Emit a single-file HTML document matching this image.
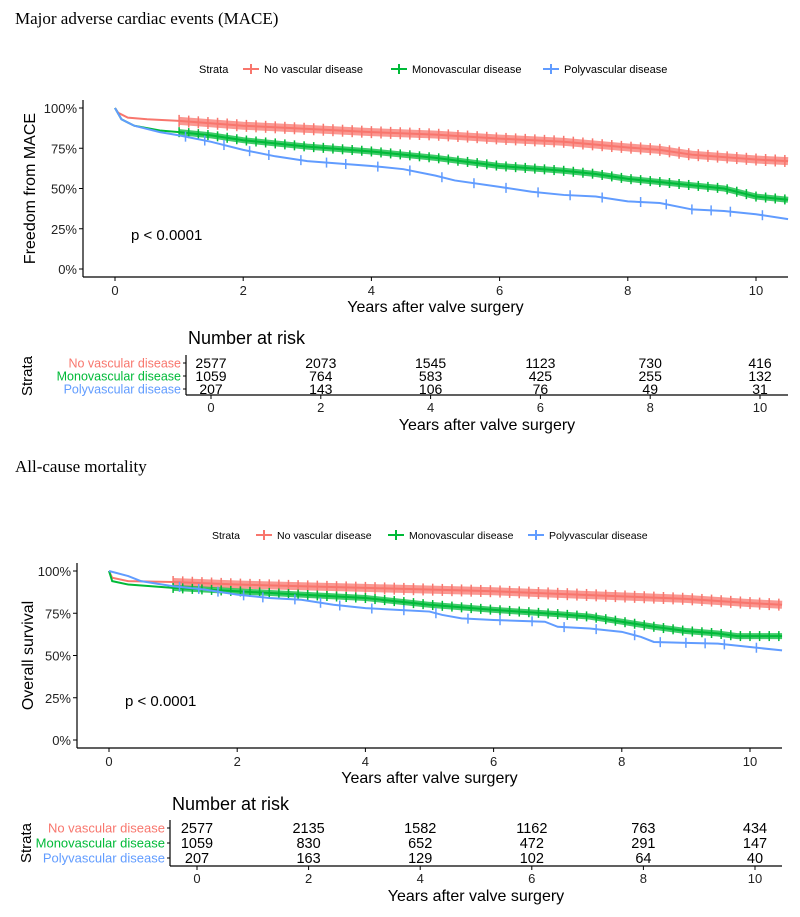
<!DOCTYPE html>
<html><head><meta charset="utf-8">
<style>
body{margin:0;background:#fff;}
svg{display:block;font-family:"Liberation Sans",sans-serif;}
.serif{font-family:"Liberation Serif",serif;}
</style></head>
<body>
<svg id="s" width="800" height="917" viewBox="0 0 800 917" xmlns="http://www.w3.org/2000/svg">
<text class="serif" x="15" y="24" font-size="17" fill="#000">Major adverse cardiac events (MACE)</text>
<text class="serif" x="15" y="472" font-size="17" fill="#000">All-cause mortality</text>
</svg>
<script>
const COLORS=["#F8766D","#00BA38","#619CFF"];
const strataNames=["No vascular disease","Monovascular disease","Polyvascular disease"];
const xTicks=[0,2,4,6,8,10];
const yTicks=[0,25,50,75,100];
// MACE curves [time, survival%]
const maceRed=[[0,100],[0.05,97],[0.2,94],[0.5,93],[1,92],[2,89],[3,87],[4,85],[5,83.5],[6,81],[7,79],[8,75.5],[8.5,74],[9,71],[10,68],[10.5,67]];
const maceGreen=[[0,100],[0.1,93],[0.3,89],[0.7,86],[1,85],[1.5,83],[2,80],[3,76],[4,73],[5,69],[6,64],[7,61],[7.5,59],[8,56],[9,52],[9.5,50],[10,45],[10.5,43]];
const maceBlue=[[0,100],[0.1,93],[0.3,89],[0.7,85],[1,83],[1.5,79],[2,74],[2.5,70],[3,67],[4,64],[4.5,62],[5,58],[5.3,55],[6,51],[6.5,48],[7,46],[7.5,45],[8,42],[8.5,41],[9,37],[9.5,36],[10,34],[10.5,31]];
// OS curves
const osRed=[[0,100],[0.05,96],[0.3,94],[1,93.5],[2,92],[4,90],[6,88],[8,85],[9,83.5],[10,81],[10.5,80]];
const osGreen=[[0,100],[0.05,94],[0.3,92],[1,90],[2,88],[3,86],[4,84],[5,80],[6,77],[7,74.5],[7.5,73],[8,70],[8.5,67],[9,64.5],[9.5,63],[9.8,61.5],[10.5,61.5]];
const osBlue=[[0,100],[0.3,97],[0.5,94],[1,91],[1.5,89],[2,86],[2.5,84],[3,83],[3.5,80],[4,78],[4.5,77],[5,76],[5.2,74],[5.5,72],[6,71],[6.8,70],[7,67],[7.5,66],[8,64],[8.3,61],[8.5,58],[9,57.5],[9.5,57],[10,55],[10.5,53]];
// censor times
const censDense=[1,1.15,1.3,1.45,1.6,1.75,1.9,2.05,2.2,2.35,2.5,2.65,2.8,2.95,3.1,3.25,3.4,3.55,3.7,3.85,4,4.15,4.3,4.45,4.6,4.75,4.9,5.05,5.2,5.35,5.5,5.65,5.8,5.95,6.1,6.25,6.4,6.55,6.7,6.85,7,7.15,7.3,7.45,7.6,7.75,7.9,8.05,8.2,8.35,8.5,8.65,8.8,8.95,9.1,9.25,9.4,9.55,9.7,9.85,10,10.15,10.3,10.45];
const censSparse=[1.1,1.4,1.7,2.1,2.4,2.9,3.3,3.6,4.1,4.6,5.1,5.6,6.1,6.6,7.1,7.6,8.2,8.6,9.0,9.3,9.6,10.1];
// risk tables
const maceRisk=[[2577,2073,1545,1123,730,416],[1059,764,583,425,255,132],[207,143,106,76,49,31]];
const osRisk=[[2577,2135,1582,1162,763,434],[1059,830,652,472,291,147],[207,163,129,102,64,40]];

const S=document.getElementById('s');
const NS="http://www.w3.org/2000/svg";
function mk(tag,attrs,parent){const e=document.createElementNS(NS,tag);for(const k in attrs)e.setAttribute(k,attrs[k]);(parent||S).appendChild(e);return e;}
function txt(x,y,t,size,fill,anchor,parent){const e=mk('text',{x:x,y:y,'font-size':size,fill:fill||'#000','text-anchor':anchor||'start'},parent);e.textContent=t;return e;}
function survAt(curve,t){for(let k=1;k<curve.length;k++){if(curve[k][0]>=t){const a=curve[k-1],b=curve[k];return a[1]+(b[1]-a[1])*(t-a[0])/(b[0]-a[0]);}}return curve[curve.length-1][1];}

function panel(P){
  const g=mk('g',{});
  
  
  const sx=t=>P.x0+(P.x10-P.x0)*t/10;
  const sy=v=>P.y0+(P.y100-P.y0)*v/100;
  const lg=mk('g',{},g);
  
  
  txt(P.legX,P.legY+4,'Strata',P.legF,'#000','start',lg);
  let lx=P.legX+P.legS;
  for(let i=0;i<3;i++){
    const it=mk('g',{},lg);
    
    
    mk('line',{x1:lx,x2:lx+16,y1:P.legY,y2:P.legY,stroke:COLORS[i],'stroke-width':2},it);
    mk('line',{x1:lx+8,x2:lx+8,y1:P.legY-5,y2:P.legY+5,stroke:COLORS[i],'stroke-width':2},it);
    txt(lx+21,P.legY+4,strataNames[i],P.legF,'#000','start',it);
    lx+=P.legW[i];
  }
  mk('line',{x1:P.ax,x2:P.ax,y1:P.y100-8,y2:P.axY,stroke:'#000','stroke-width':1.2},g);
  mk('line',{x1:P.ax,x2:P.axR,y1:P.axY,y2:P.axY,stroke:'#000','stroke-width':1.2},g);
  for(const v of yTicks){mk('line',{x1:P.ax-4,x2:P.ax,y1:sy(v),y2:sy(v),stroke:'#000'},g);txt(P.ax-6,sy(v)+5,v+'%',13,'#222','end',g);}
  for(const t of xTicks){mk('line',{x1:sx(t),x2:sx(t),y1:P.axY,y2:P.axY+4,stroke:'#000'},g);txt(sx(t),P.axY+18,String(t),13,'#222','middle',g);}
  const xl=txt((P.ax+P.axR)/2,P.axY+35,'Years after valve surgery',16,'#000','middle',g);
  
  const yl=txt(0,0,P.ylab,16,'#000','middle',g);
  yl.setAttribute('transform','translate('+P.ylx+','+sy(50)+') rotate(-90)');
  
  const pv=txt(P.pX,sy(P.pV),'p < 0.0001',15,'#000','start',g);
  
  P.curves.forEach((c,i)=>{
    let d='M'+sx(c[0][0])+','+sy(c[0][1]);
    for(let k=1;k<c.length;k++){d+=' L'+sx(c[k][0])+','+sy(c[k][1]);}
    const pth=mk('path',{d:d,fill:'none',stroke:COLORS[i],'stroke-width':2},g);
    
    if(P.band[i]>0){
      let bd='M'+sx(1)+','+sy(survAt(c,1));
      for(let k=1;k<c.length;k++){if(c[k][0]>1)bd+=' L'+sx(c[k][0])+','+sy(c[k][1]);}
      const b=mk('path',{d:bd,fill:'none',stroke:COLORS[i],'stroke-width':P.band[i],'stroke-opacity':0.75},g);
      
    }
    for(const t of P.cens[i]){
      const v=survAt(c,t);
      const m=mk('line',{x1:sx(t),x2:sx(t),y1:sy(v)-P.ch[i],y2:sy(v)+P.ch[i],stroke:COLORS[i],'stroke-width':1.5},g);
      
    }
  });
  const rt=mk('g',{},g);
  
  
  const rx=t=>P.rx0+(P.rx10-P.rx0)*t/10;
  txt(P.rL+2,P.nrY+7,'Number at risk',18,'#000','start',rt);
  P.risk.forEach((row,i)=>{
    const y=P.rows[i];
    txt(P.rL-5,y+4.5,strataNames[i],P.rsF,COLORS[i],'end',rt);
    mk('line',{x1:P.rL-3,x2:P.rL,y1:y,y2:y,stroke:'#000'},rt);
    row.forEach((n,j)=>txt(rx(xTicks[j]),y+5,String(n),P.rnF,'#000','middle',rt));
  });
  mk('line',{x1:P.rL,x2:P.rL,y1:P.rows[0]-8,y2:P.rAx,stroke:'#000','stroke-width':1.2},rt);
  mk('line',{x1:P.rL,x2:P.axR,y1:P.rAx,y2:P.rAx,stroke:'#000','stroke-width':1.2},rt);
  for(const t of xTicks){mk('line',{x1:rx(t),x2:rx(t),y1:P.rAx,y2:P.rAx+4,stroke:'#000'},rt);txt(rx(t),P.rAx+17,String(t),13,'#222','middle',rt);}
  txt((P.rL+P.axR)/2,P.rAx+35,'Years after valve surgery',16,'#000','middle',rt);
  const st=txt(0,0,'Strata',15,'#000','middle',rt);
  st.setAttribute('transform','translate('+P.stX+','+P.rows[1]+') rotate(-90)');
}
panel({id:'mace',x0:115,x10:756,y100:108,y0:269,ax:83,axR:788,axY:277,legX:199,legY:69,legS:44,legF:11,legW:[148,152],ylab:'Freedom from MACE',ylx:35,pX:131,pV:18,
  curves:[maceRed,maceGreen,maceBlue],cens:[censDense,censDense,censSparse],ch:[6,5,5],band:[8,6,0],risk:maceRisk,
  rx0:211,rx10:760,rL:186,nrY:337,rows:[363,376,389],rAx:395,stX:32,rsF:12.5,rnF:14});
panel({id:'os',x0:109,x10:750,y100:571,y0:740,ax:77,axR:782,axY:748,legX:212,legY:535,legS:44,legF:10.5,legW:[132,140],ylab:'Overall survival',ylx:33,pX:125,pV:20,
  curves:[osRed,osGreen,osBlue],cens:[censDense,censDense,censSparse],ch:[6,5,5],band:[8,6,0],risk:osRisk,
  rx0:197,rx10:755,rL:170,nrY:803,rows:[828,843,858],rAx:866,stX:31,rsF:13,rnF:14.5});
</script>
</body></html>
